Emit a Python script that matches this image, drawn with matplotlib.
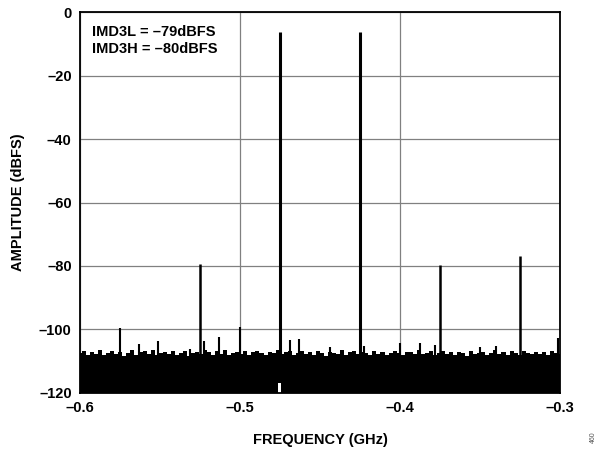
import numpy as np
import matplotlib
matplotlib.use('Agg')
import matplotlib.pyplot as plt

plt.rcParams['font.family'] = ['Liberation Sans', 'DejaVu Sans']
plt.rcParams['font.weight'] = 'bold'

# noise floor (dBFS), evenly spaced bins across -0.6 .. -0.3 GHz
noise_floor = [
    -107.4, -106.7, -108.0, -107.1, -107.6, -106.5, -108.1, -107.3, -106.8, -107.7,
    -107.0, -108.2, -107.5, -106.6, -107.9, -107.2, -106.9, -107.8, -106.5, -108.1,
    -107.4, -107.1, -107.7, -106.7, -108.0, -107.3, -106.8, -108.3, -107.5, -107.0,
    -107.8, -106.6, -107.2, -108.1, -106.9, -107.6, -106.4, -107.9, -107.4, -107.1,
    -107.7, -106.8, -108.1, -107.2, -106.7, -107.5, -108.0, -107.0, -107.3, -106.5,
    -107.8, -107.2, -106.9, -108.1, -107.4, -106.7, -107.6, -107.1, -107.9, -106.8,
    -107.5, -108.2, -107.0, -107.3, -107.8, -106.6, -108.0, -107.2, -106.9, -107.7,
    -107.1, -107.4, -108.1, -106.7, -107.6, -107.0, -107.9, -107.3, -106.8, -107.5,
    -108.0, -107.1, -107.2, -107.8, -106.5, -107.7, -107.4, -106.9, -108.1, -107.3,
    -106.8, -107.6, -107.2, -107.9, -107.0, -107.5, -108.2, -106.7, -107.8, -107.4,
    -107.1, -108.0, -107.3, -106.6, -107.7, -107.2, -107.9, -106.9, -107.5, -108.1,
    -106.8, -107.4, -107.8, -107.0, -107.6, -107.2, -108.0, -106.7, -107.3, -107.7,
]

# tones and spurs
tone_freq = [-0.475, -0.425]
tone_level = [-6.3, -6.3]

imd_freq = [-0.525, -0.375, -0.325]
imd_level = [-79.4, -79.7, -76.8]

spur_freq = [-0.575, -0.5, -0.3012, -0.563, -0.551, -0.531, -0.5225, -0.513,
             -0.469, -0.463, -0.444, -0.4225, -0.4, -0.3875, -0.378, -0.35, -0.34]
spur_level = [-99.5, -99.3, -102.7, -104.6, -103.6, -106.0, -103.6, -102.4,
              -103.3, -103.0, -105.5, -105.2, -104.3, -104.3, -104.9, -105.5, -105.2]

xticks = [-0.6, -0.5, -0.4, -0.3]
yticks = [0, -20, -40, -60, -80, -100, -120]

fig = plt.figure(figsize=(6, 4.5), dpi=100)
ax = fig.add_axes([0.1333, 0.1267, 0.8, 0.8466])

freq = np.linspace(-0.6, -0.3, len(noise_floor))
ax.fill_between(freq, noise_floor, -120, step='mid', color='black', lw=0, zorder=3)
ax.vlines(spur_freq, -120, spur_level, color='black', lw=1.5, zorder=3)
ax.vlines(imd_freq, -120, imd_level, color='black', lw=1.8, zorder=3)
ax.vlines(tone_freq, -120, tone_level, color='black', lw=2.2, zorder=3)
# small notch in the floor
ax.add_patch(plt.Rectangle((-0.4765, -120), 0.0022, 3.2, color='white', lw=0, zorder=4))

ax.set_xlim(-0.6, -0.3)
ax.set_ylim(-120, 0)
ax.set_xticks(xticks)
ax.set_xticklabels([('%.1f' % t).replace('-', '\u2013') for t in xticks], fontsize=10.5, fontweight='bold')
ax.set_yticks(yticks)
ax.set_yticklabels([str(t).replace('-', '\u2013') for t in yticks], fontsize=10.5, fontweight='bold')
ax.tick_params(length=0, pad=6)
ax.grid(True, color='#808080', lw=0.9, zorder=1)
for s in ax.spines.values():
    s.set_linewidth(1.3)
    s.set_zorder(5)

ax.set_xlabel('FREQUENCY (GHz)', fontsize=10.5, fontweight='bold', labelpad=13)
ax.set_ylabel('AMPLITUDE (dBFS)', fontsize=10.5, fontweight='bold', labelpad=10)

ax.text(0.025, 0.965, 'IMD3L = \u201379dBFS\nIMD3H = \u201380dBFS', transform=ax.transAxes,
        ha='left', va='top', fontsize=10.5, fontweight='bold', linespacing=1.25)

fig.text(0.983, 0.02, '460', rotation=90, fontsize=5, color='#555555', fontweight='normal')

fig.savefig('out.png', dpi=100)
